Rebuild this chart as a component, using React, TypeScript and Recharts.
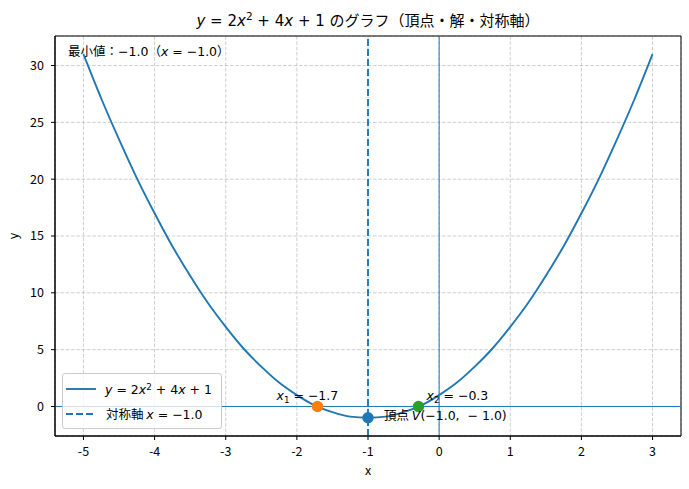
import React from "react";
import {
  ComposedChart,
  Line,
  Scatter,
  Cell,
  XAxis,
  YAxis,
  CartesianGrid,
  ReferenceLine,
  ReferenceArea,
  ReferenceDot,
  Legend,
} from "recharts";

// curve y = 2x^2 + 4x + 1
const CURVE_X = [
  -5, -4.75, -4.5, -4.25, -4, -3.75, -3.5, -3.25, -3, -2.75, -2.5, -2.25, -2,
  -1.75, -1.5, -1.25, -1, -0.75, -0.5, -0.25, 0, 0.25, 0.5, 0.75, 1, 1.25, 1.5,
  1.75, 2, 2.25, 2.5, 2.75, 3,
];
const CURVE_Y = [
  31, 27.1, 23.5, 20.1, 17, 14.1, 11.5, 9.1, 7, 5.1, 3.5, 2.1, 1, 0.1, -0.5,
  -0.9, -1, -0.9, -0.5, 0.1, 1, 2.1, 3.5, 5.1, 7, 9.1, 11.5, 14.1, 17, 20.1,
  23.5, 27.1, 31,
];

// vertex, x1, x2
const POINT_X = [-1, -1.71, -0.29];
const POINT_Y = [-1, 0, 0];
const POINT_COLORS = ["#1f77b4", "#ff7f0e", "#2ca02c"];

const AXIS_OF_SYMMETRY = -1.0;
const X_TICKS = [-5, -4, -3, -2, -1, 0, 1, 2, 3];
const Y_TICKS = [0, 5, 10, 15, 20, 25, 30];
const X_DOMAIN: [number, number] = [-5.4, 3.4];
const Y_DOMAIN: [number, number] = [-2.6, 32.6];

const curveData = CURVE_X.map((x, i) => ({ x, y: CURVE_Y[i] }));
const pointData = POINT_X.map((x, i) => ({ x, y: POINT_Y[i] }));

const CJK = "'Noto Sans CJK JP', sans-serif";
const MATH = "'DejaVu Sans', sans-serif";
const BLUE = "#1f77b4";
const FS = 12.5;

const it = { fontFamily: MATH, fontStyle: "italic" as const };
const rm = { fontFamily: MATH };

// labels next to the three points
function PointLabel(props: any) {
  const { viewBox, which } = props;
  const cx = viewBox.x + (viewBox.width || 0) / 2;
  const cy = viewBox.y + (viewBox.height || 0) / 2;
  const common = { fontSize: FS, fill: "#000", style: { whiteSpace: "pre" as const } };
  if (which === 0) {
    return (
      <text x={cx + 16} y={cy + 2} textAnchor="start" {...common}>
        <tspan fontFamily={CJK}>頂点 </tspan>
        <tspan {...it}>V</tspan>
        <tspan {...rm}>(−1.0,  − 1.0)</tspan>
      </text>
    );
  }
  const sub = which === 1 ? "1" : "2";
  const val = which === 1 ? "−1.7" : "−0.3";
  return (
    <text
      x={which === 1 ? cx - 41 : cx + 8}
      y={cy - 6}
      textAnchor="start"
      {...common}
    >
      <tspan {...it}>x</tspan>
      <tspan {...rm} fontSize={FS * 0.7} dy={2.5}>
        {sub}
      </tspan>
      <tspan {...rm} dy={-2.5}>
        {" = " + val}
      </tspan>
    </text>
  );
}

// title + min-value note, positioned from the plot frame
function FrameText(props: any) {
  const { viewBox } = props;
  const { x, y, width } = viewBox;
  return (
    <g style={{ whiteSpace: "pre" }}>
      <text x={x + width / 2} y={y - 10} textAnchor="middle" fontSize={15} fill="#000">
        <tspan {...it}>y</tspan>
        <tspan {...rm}> = 2</tspan>
        <tspan {...it}>x</tspan>
        <tspan {...rm} fontSize={10.5} dy={-6}>
          2
        </tspan>
        <tspan {...rm} dy={6}>
          {" + 4"}
        </tspan>
        <tspan {...it}>x</tspan>
        <tspan {...rm}>{" + 1 "}</tspan>
        <tspan fontFamily={CJK}>のグラフ（頂点・解・対称軸）</tspan>
      </text>
      <text x={x + 13} y={y + 20} fontSize={FS} fill="#000">
        <tspan fontFamily={CJK}>最小値：</tspan>
        <tspan {...rm}>−1.0</tspan>
        <tspan fontFamily={CJK}>（</tspan>
        <tspan {...it}>x</tspan>
        <tspan {...rm}> = −1.0</tspan>
        <tspan fontFamily={CJK}>）</tspan>
      </text>
    </g>
  );
}

function YLabel(props: any) {
  const { viewBox } = props;
  const cx = viewBox.x + 17.5;
  const cy = viewBox.y + viewBox.height / 2;
  return (
    <text
      x={cx}
      y={cy}
      textAnchor="middle"
      transform={`rotate(-90 ${cx} ${cy})`}
      fontSize={FS}
      fontFamily={CJK}
      fill="#000"
    >
      y
    </text>
  );
}

function LegendBox() {
  return (
    <div
      style={{
        width: 158,
        height: 54,
        border: "1px solid #cccccc",
        borderRadius: 3,
        background: "rgba(255,255,255,0.8)",
        position: "relative",
        fontSize: FS,
        fontFamily: CJK,
        color: "#000",
      }}
    >
      <svg width={36} height={54} style={{ position: "absolute", left: 0, top: 0 }}>
        <line x1={3} x2={33} y1={15} y2={15} stroke={BLUE} strokeWidth={1.9} />
        <line
          x1={3}
          x2={33}
          y1={40}
          y2={40}
          stroke={BLUE}
          strokeWidth={1.9}
          strokeDasharray="7 3"
        />
      </svg>
      <div style={{ position: "absolute", left: 42, top: 5, lineHeight: "20px", whiteSpace: "pre" }}>
        <span style={it}>y</span>
        <span style={rm}> = 2</span>
        <span style={it}>x</span>
        <span style={{ ...rm, fontSize: "0.7em", verticalAlign: "0.5em", lineHeight: 0 }}>2</span>
        <span style={rm}>{" + 4"}</span>
        <span style={it}>x</span>
        <span style={rm}>{" + 1"}</span>
      </div>
      <div style={{ position: "absolute", left: 43, top: 30, lineHeight: "20px", whiteSpace: "pre" }}>
        <span>対称軸 </span>
        <span style={it}>x</span>
        <span style={rm}> = −1.0</span>
      </div>
    </div>
  );
}

export default function App() {
  return (
    <div
      style={{
        position: "absolute",
        left: 0,
        top: 0,
        width: 689,
        height: 489,
        background: "#fff",
      }}
    >
      <ComposedChart
        width={689}
        height={489}
        data={curveData}
        margin={{ top: 36, right: 8, bottom: 0, left: 0 }}
      >
        <CartesianGrid
          stroke="#b0b0b0"
          strokeOpacity={0.6}
          strokeDasharray="3.7 1.6"
        />
        <XAxis
          type="number"
          dataKey="x"
          domain={X_DOMAIN}
          ticks={X_TICKS}
          interval={0}
          allowDataOverflow
          height={53}
          tickSize={4}
          tickMargin={7.5}
          tick={{ fill: "#000", fontSize: FS, fontFamily: CJK }}
          tickLine={{ stroke: "#000" }}
          axisLine={{ stroke: "#000" }}
          label={{
            value: "x",
            position: "insideBottom",
            offset: 14,
            fill: "#000",
            fontSize: FS,
            fontFamily: CJK,
          }}
        />
        <YAxis
          type="number"
          domain={Y_DOMAIN}
          ticks={Y_TICKS}
          interval={0}
          allowDataOverflow
          width={55}
          tickSize={4}
          tickMargin={7}
          tick={{ fill: "#000", fontSize: FS, fontFamily: CJK }}
          tickLine={{ stroke: "#000" }}
          axisLine={{ stroke: "#000" }}
          label={{ content: (p: any) => <YLabel {...p} /> }}
        />

        <ReferenceArea
          x1={X_DOMAIN[0]}
          x2={X_DOMAIN[1]}
          y1={Y_DOMAIN[0]}
          y2={Y_DOMAIN[1]}
          fill="none"
          fillOpacity={0}
          stroke="#000"
          strokeWidth={1}
          label={{ content: (p: any) => <FrameText {...p} /> }}
        />

        <ReferenceLine y={0} stroke={BLUE} strokeWidth={1} />
        <ReferenceLine x={0} stroke={BLUE} strokeWidth={1} />
        <ReferenceLine
          x={AXIS_OF_SYMMETRY}
          stroke={BLUE}
          strokeWidth={1.9}
          strokeDasharray="7 3"
        />

        <Line
          type="monotone"
          dataKey="y"
          stroke={BLUE}
          strokeWidth={1.9}
          dot={false}
          activeDot={false}
          isAnimationActive={false}
        />

        <Scatter
          data={pointData}
          dataKey="y"
          isAnimationActive={false}
          shape={(p: any) => <circle cx={p.cx} cy={p.cy} r={5.7} fill={p.fill} />}
        >
          {pointData.map((_, i) => (
            <Cell key={i} fill={POINT_COLORS[i]} />
          ))}
        </Scatter>

        {pointData.map((pt, i) => (
          <ReferenceDot
            key={"lbl" + i}
            x={pt.x}
            y={pt.y}
            r={0}
            stroke="none"
            fill="none"
            label={{ content: (p: any) => <PointLabel {...p} which={i} /> }}
          />
        ))}

        <Legend
          layout="vertical"
          align="center"
          verticalAlign="middle"
          wrapperStyle={{ left: 62, top: 373, width: 160, height: 56 }}
          content={() => <LegendBox />}
        />
      </ComposedChart>
    </div>
  );
}
